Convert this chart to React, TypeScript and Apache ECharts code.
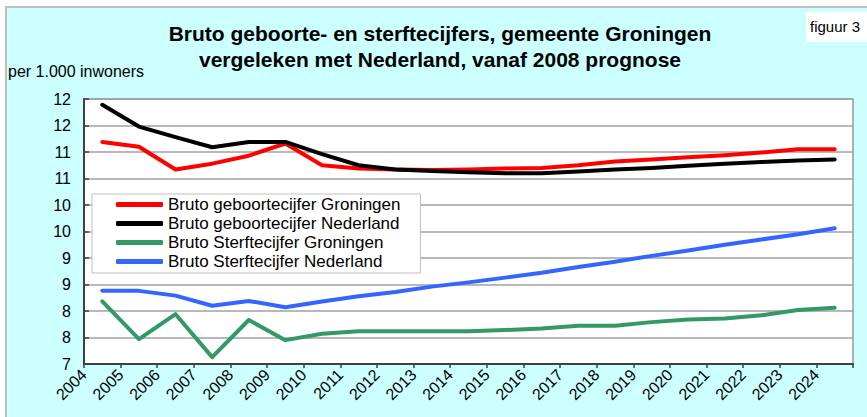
import React, { useEffect, useRef } from "react";
import * as echarts from "echarts";

const years = [
  "2004", "2005", "2006", "2007", "2008", "2009", "2010", "2011", "2012", "2013", "2014",
  "2015", "2016", "2017", "2018", "2019", "2020", "2021", "2022", "2023", "2024",
];

const geboorteGroningen = [
  11.19, 11.1, 10.67, 10.78, 10.93, 11.16, 10.75, 10.69, 10.67, 10.66, 10.67,
  10.69, 10.7, 10.75, 10.82, 10.86, 10.9, 10.94, 10.99, 11.05, 11.05,
];
const geboorteNederland = [
  11.89, 11.48, 11.28, 11.09, 11.19, 11.19, 10.96, 10.75, 10.67, 10.64, 10.62,
  10.6, 10.6, 10.63, 10.67, 10.7, 10.74, 10.78, 10.81, 10.84, 10.86,
];
const sterfteGroningen = [
  8.18, 7.47, 7.94, 7.13, 7.83, 7.45, 7.57, 7.62, 7.62, 7.62, 7.62,
  7.64, 7.67, 7.72, 7.72, 7.79, 7.84, 7.86, 7.92, 8.02, 8.06,
];
const sterfteNederland = [
  8.38, 8.38, 8.29, 8.1, 8.19, 8.07, 8.18, 8.28, 8.36, 8.46, 8.54,
  8.63, 8.72, 8.83, 8.93, 9.04, 9.14, 9.25, 9.35, 9.45, 9.56,
];

const seriesNames = [
  "Bruto geboortecijfer Groningen",
  "Bruto geboortecijfer Nederland",
  "Bruto Sterftecijfer Groningen",
  "Bruto Sterftecijfer Nederland",
];
const seriesColors = ["#FF0000", "#000000", "#339966", "#3366FF"];
const seriesValues = [geboorteGroningen, geboorteNederland, sterfteGroningen, sterfteNederland];

const titleLines = [
  "Bruto geboorte- en sterftecijfers, gemeente Groningen",
  "vergeleken met Nederland, vanaf 2008 prognose",
];
const unitLabel = "per 1.000 inwoners";
const figLabel = "figuur 3";

const FONT = "'Liberation Sans', Arial, Helvetica, sans-serif";

export default function App() {
  const ref = useRef<HTMLDivElement>(null);
  useEffect(() => {
    if (!ref.current) return;
    const chart = echarts.init(ref.current, undefined, { renderer: "svg" });
    chart.setOption({
      animation: false,
      backgroundColor: "#FFFFFF",
      textStyle: { fontFamily: FONT },
      graphic: [
        {
          type: "rect",
          z: -10,
          silent: true,
          shape: { x: 6, y: 7, width: 880, height: 430 },
          style: { fill: "#CCFFFF", stroke: "#C0C0C0", lineWidth: 2 },
        },
        {
          type: "rect",
          z: 5,
          shape: { x: 806, y: 12, width: 70, height: 30 },
          style: { fill: "#FFFFFF" },
        },
        {
          type: "text",
          z: 6,
          x: 810,
          y: 26,
          style: { text: figLabel, fontSize: 15, fontFamily: FONT, fill: "#000", verticalAlign: "middle" },
        },
        {
          type: "text",
          x: 440,
          y: 33,
          style: {
            text: titleLines[0], fontSize: 21, fontWeight: "bold", fontFamily: FONT, fill: "#000",
            align: "center", verticalAlign: "middle",
          },
        },
        {
          type: "text",
          x: 440,
          y: 59,
          style: {
            text: titleLines[1], fontSize: 21, fontWeight: "bold", fontFamily: FONT, fill: "#000",
            align: "center", verticalAlign: "middle",
          },
        },
        {
          type: "text",
          x: 8,
          y: 71,
          style: { text: unitLabel, fontSize: 16, fontFamily: FONT, fill: "#000", verticalAlign: "middle" },
        },
      ],
      grid: {
        left: 84,
        right: 14,
        top: 99,
        bottom: 53,
        show: true,
        backgroundColor: "#FFFFFF",
        borderColor: "#999999",
        borderWidth: 1.5,
      },
      legend: {
        left: 92,
        top: 194,
        orient: "vertical",
        backgroundColor: "#FFFFFF",
        borderColor: "#C0C0C0",
        borderWidth: 1,
        borderRadius: 0,
        padding: [2, 20, 3, 24],
        itemGap: 2,
        itemWidth: 47,
        itemHeight: 5,
        icon: "roundRect",
        textStyle: { fontSize: 17, fontFamily: FONT, color: "#000", lineHeight: 17, padding: [0, 0, 0, 0] },
        data: seriesNames,
      },
      xAxis: {
        type: "value",
        min: 0,
        max: years.length,
        interval: 1,
        axisLine: { show: true, lineStyle: { color: "#404040", width: 2 } },
        axisTick: { show: true, length: 4, lineStyle: { color: "#404040", width: 1.5 } },
        splitLine: { show: false },
        axisLabel: {
          rotate: 45,
          margin: 8,
          fontSize: 16,
          fontFamily: FONT,
          color: "#000",
          showMinLabel: true,
          showMaxLabel: true,
          formatter: (v: number) => (years[v] !== undefined ? years[v] : ""),
        },
      },
      yAxis: {
        type: "value",
        min: 7,
        max: 12,
        interval: 0.5,
        axisLine: { show: true, lineStyle: { color: "#404040", width: 2 } },
        axisTick: { show: true, inside: true, length: 5, lineStyle: { color: "#404040", width: 1.5 } },
        splitLine: { show: true, lineStyle: { color: "#A0A0A0", width: 1.5 } },
        axisLabel: {
          margin: 13,
          fontSize: 16,
          fontFamily: FONT,
          color: "#000",
          formatter: (v: number) => String(Math.round(v)),
        },
      },
      series: seriesNames.map((name, k) => ({
        name,
        type: "line",
        symbol: "none",
        smooth: false,
        color: seriesColors[k],
        lineStyle: { color: seriesColors[k], width: 4, cap: "round", join: "round" },
        data: seriesValues[k].map((v, i) => [i + 0.5, v]),
      })),
    });
    return () => chart.dispose();
  }, []);
  return (
    <div
      ref={ref}
      style={{ position: "fixed", left: 0, top: 0, width: 867, height: 417 }}
    />
  );
}
